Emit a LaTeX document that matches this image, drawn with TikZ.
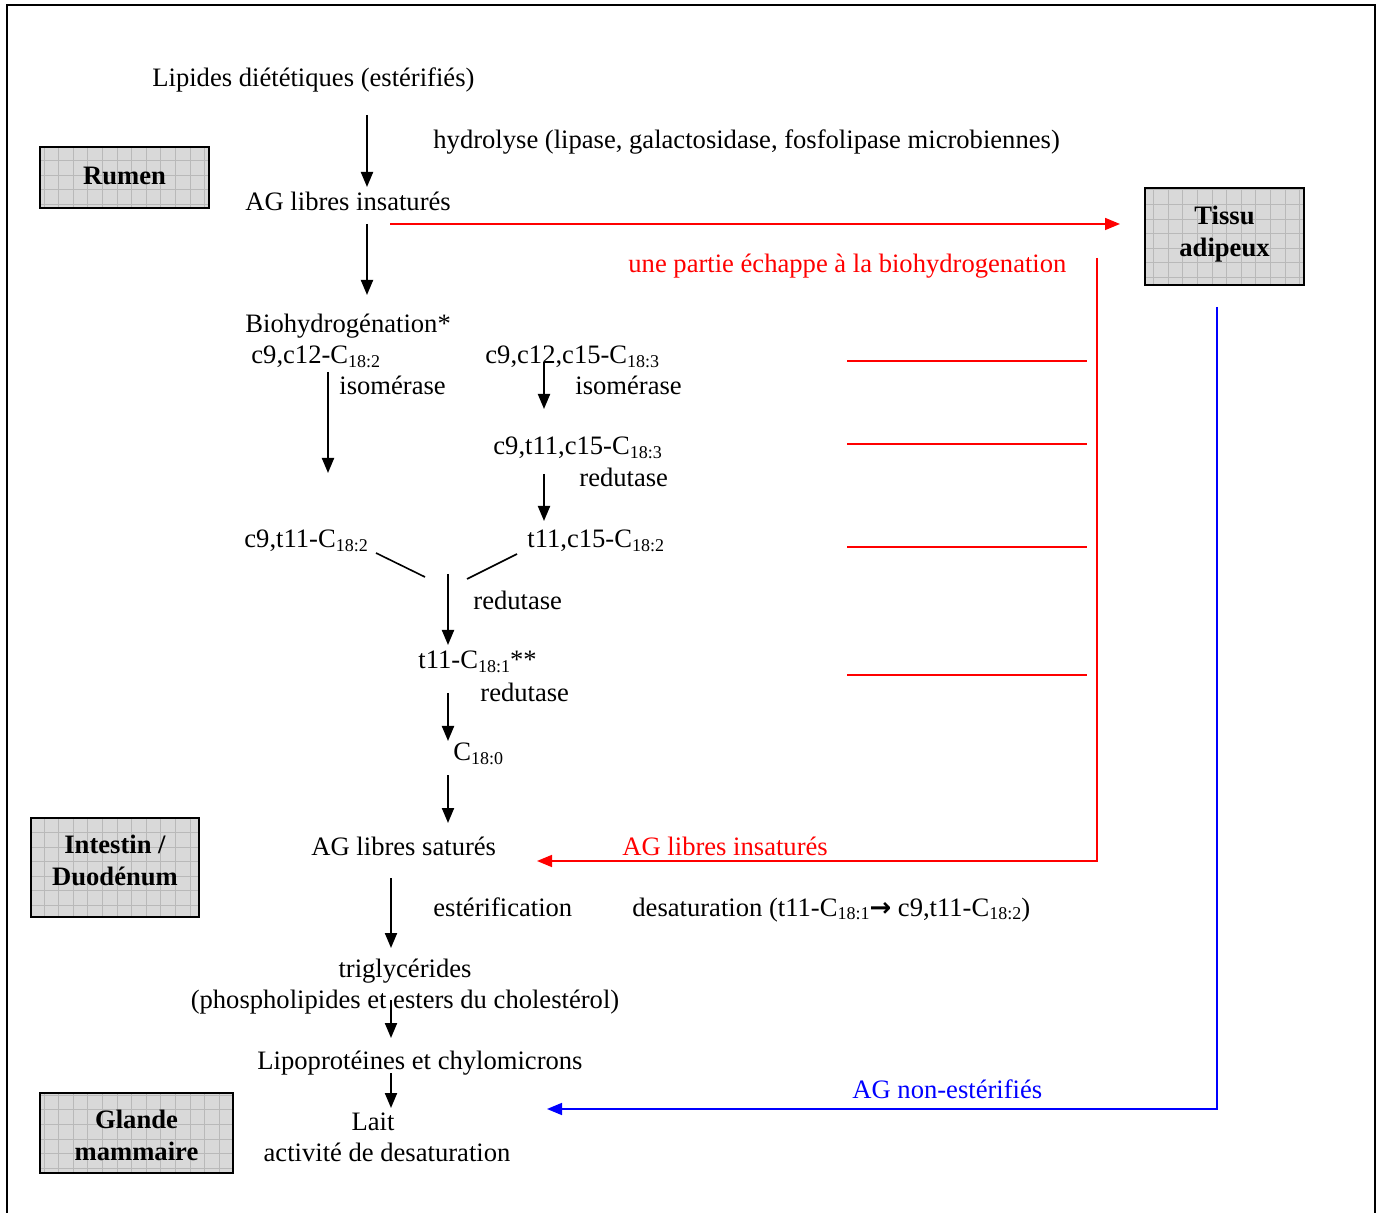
\documentclass[tikz,border=0pt]{standalone}
\usepackage{fontspec}
\setmainfont{Liberation Serif}
\newfontfamily\djv{DejaVu Sans}
\usetikzlibrary{arrows.meta}
\newcommand{\sbs}[1]{\raisebox{-0.3ex}{\fontsize{9}{10}\selectfont #1}}
\tikzset{
  txt/.style={inner sep=0pt, anchor=base west, font=\fontsize{13.3}{16}\selectfont},
  ctxt/.style={inner sep=0pt, anchor=base, font=\fontsize{13.3}{16}\selectfont},
  btxt/.style={inner sep=0pt, align=center, font=\fontsize{13.3}{16}\selectfont\bfseries},
  blk/.style={line width=1pt, -{Triangle[length=7.5pt,width=6pt]}},
  blkline/.style={line width=0.8pt},
  redarr/.style={red, line width=0.8pt, -{Triangle[length=7.5pt,width=6pt]}},
  redline/.style={red, line width=0.8pt},
  bluearr/.style={blue, line width=0.8pt, -{Triangle[length=7.5pt,width=6pt]}},
  boxgrid/.style={gray!55, line width=0.3pt},
}
\newcommand{\gbox}[5]{% name, x1,y1,x2,y2
  \fill[gray!30] (#2,#3) rectangle (#4,#5);
  \begin{scope}
    \clip (#2,#3) rectangle (#4,#5);
    \draw[boxgrid, step=7.3pt] (#2,#3) grid (#4,#5);
  \end{scope}
  \draw[line width=1pt] (#2,#3) rectangle (#4,#5);
  \coordinate (#1) at ({(#2+#4)/2},{(#3+#5)/2});
}
\begin{document}
\begin{tikzpicture}[x=0.5pt,y=-0.5pt]
\useasboundingbox (0,0) rectangle (1382,1213);
\fill[white] (0,0) rectangle (1382,1213);
% frame
\draw[line width=1.2pt] (7,1230) -- (7,5) -- (1375,5) -- (1375,1230);

% boxes
\gbox{rumenc}{40}{147}{209}{208}
\node[btxt] (rumen) at ([yshift=1pt]rumenc) {Rumen};
\gbox{tissuc}{1145}{188}{1304}{285}
\node[btxt] (tissu) at ([yshift=1pt]tissuc) {Tissu\\adipeux};
\gbox{intc}{31}{818}{199}{917}
\node[btxt] (intestin) at ([yshift=3.5pt]intc) {Intestin /\\Duodénum};
\gbox{glac}{40}{1093}{233}{1173}
\node[btxt] (glande) at ([yshift=-1pt]glac) {Glande\\mammaire};

% texts
\node[txt] (lip) at (152,87) {Lipides diététiques (estérifiés)};
\node[txt] (hyd) at (433,149) {hydrolyse (lipase, galactosidase, fosfolipase microbiennes)};
\node[txt] (agli) at (245,211) {AG libres insaturés};
\node[txt, text=red] (part) at (628,273) {une partie échappe à la biohydrogenation};
\node[txt] (bio) at (245,333) {Biohydrogénation*};
\node[txt] (c912) at (251,364) {c9,c12-C\sbs{18:2}};
\node[txt] (c91215) at (485,364) {c9,c12,c15-C\sbs{18:3}};
\node[txt] (iso1) at (339,395) {isomérase};
\node[txt] (iso2) at (575,395) {isomérase};
\node[txt] (c9t11c15) at (493,455) {c9,t11,c15-C\sbs{18:3}};
\node[txt] (red1) at (579,487) {redutase};
\node[txt] (c9t11) at (244,548) {c9,t11-C\sbs{18:2}};
\node[txt] (t11c15) at (527,548) {t11,c15-C\sbs{18:2}};
\node[txt] (red2) at (473,610) {redutase};
\node[txt] (t11) at (418,669) {t11-C\sbs{18:1}**};
\node[txt] (red3) at (480,702) {redutase};
\node[txt] (c180) at (453,761) {C\sbs{18:0}};
\node[txt] (agls) at (311,855) {AG libres saturés};
\node[txt, text=red] (agli2) at (622,855) {AG libres insaturés};
\node[txt] (est) at (433,916) {estérification};
\node[txt] (desat) at (632,916) {desaturation (t11-C\sbs{18:1}{\djv\bfseries\fontsize{13}{13}\selectfont →} c9,t11-C\sbs{18:2})};
\node[ctxt] (trig) at (405,977) {triglycérides};
\node[ctxt] (phos) at (405,1008) {(phospholipides et esters du cholestérol)};
\node[ctxt] (lipo) at (420,1069) {Lipoprotéines et chylomicrons};
\node[ctxt] (lait) at (373,1130) {Lait};
\node[ctxt] (activ) at (387,1161) {activité de desaturation};
\node[txt, text=blue] (agne) at (852,1098) {AG non-estérifiés};

% connector coordinates
\coordinate (a1s) at (367,115); \coordinate (a1e) at (367,187);
\coordinate (a2s) at (367,224); \coordinate (a2e) at (367,295);
\coordinate (a3s) at (328,372); \coordinate (a3e) at (328,473);
\coordinate (a4s) at (544,362); \coordinate (a4e) at (544,409);
\coordinate (a5s) at (544,474); \coordinate (a5e) at (544,521);
\coordinate (a6s) at (448,574); \coordinate (a6e) at (448,645);
\coordinate (a7s) at (448,693); \coordinate (a7e) at (448,741);
\coordinate (a8s) at (448,775); \coordinate (a8e) at (448,823);
\coordinate (a9s) at (391,878); \coordinate (a9e) at (391,948);
\coordinate (a10s) at (391,1000); \coordinate (a10e) at (391,1038);
\coordinate (a11s) at (391,1073); \coordinate (a11e) at (391,1108);
\coordinate (l1s) at (376,553); \coordinate (l1e) at (425,577);
\coordinate (l2s) at (517,554); \coordinate (l2e) at (467,579);

\draw[blk] (a1s) -- (a1e);
\draw[blk] (a2s) -- (a2e);
\draw[blk] (a3s) -- (a3e);
\draw[blk] (a4s) -- (a4e);
\draw[blk] (a5s) -- (a5e);
\draw[blk] (a6s) -- (a6e);
\draw[blk] (a7s) -- (a7e);
\draw[blk] (a8s) -- (a8e);
\draw[blk] (a9s) -- (a9e);
\draw[blk] (a10s) -- (a10e);
\draw[blk] (a11s) -- (a11e);
\draw[blkline] (l1s) -- (l1e);
\draw[blkline] (l2s) -- (l2e);

% red connectors
\coordinate (r1s) at (390,224); \coordinate (r1e) at (1120,224);
\coordinate (rvt) at (1097,258); \coordinate (rvb) at (1097,861);
\coordinate (rae) at (537,861);
\draw[redarr] (r1s) -- (r1e);
\draw[redarr] (rvt) -- (rvb) -- (rae);
\foreach \yy/\nm in {361/h1,444/h2,547/h3,675/h4}{
  \coordinate (\nm s) at (847,\yy); \coordinate (\nm e) at (1087,\yy);
  \draw[redline] (\nm s) -- (\nm e);
}

% blue connector
\coordinate (bt) at (1217,307); \coordinate (bb) at (1217,1109);
\coordinate (be) at (547,1109);
\draw[bluearr] (bt) -- (bb) -- (be);
\end{tikzpicture}
\end{document}
